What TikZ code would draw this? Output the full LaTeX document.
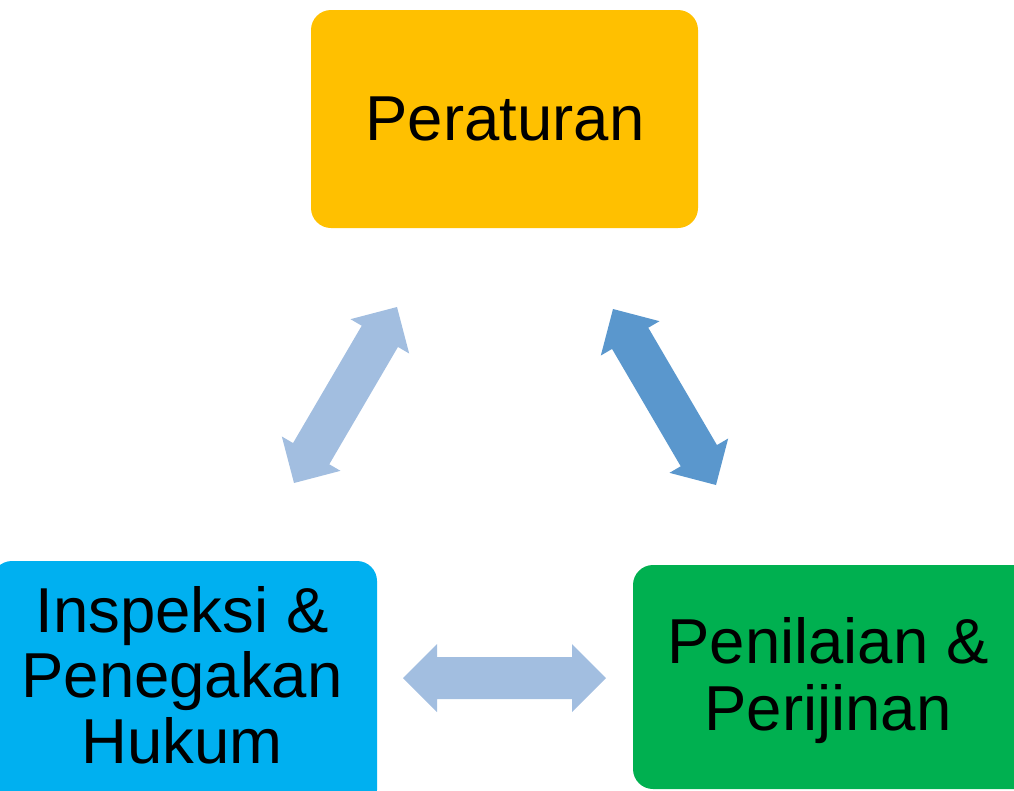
\documentclass[tikz,border=0pt]{standalone}
\usepackage{fontspec}
\setmainfont{Liberation Sans}
\usetikzlibrary{calc}
\definecolor{boxgold}{RGB}{255,192,0}
\definecolor{boxcyan}{RGB}{0,176,240}
\definecolor{boxgreen}{RGB}{0,176,80}
\definecolor{arrlight}{RGB}{162,190,224}
\definecolor{arrdark}{RGB}{90,151,205}
\newcommand\fatarrow[3]{%
  \coordinate (#2h) at ($(#2)!34pt!(#3)$);
  \coordinate (#3h) at ($(#3)!34pt!(#2)$);
  \fill[#1] (#2) -- ($(#2h)!34pt!90:(#3)$) -- ($(#2h)!21pt!90:(#3)$)
    -- ($(#3h)!21pt!-90:(#2)$) -- ($(#3h)!34pt!-90:(#2)$) -- (#3)
    -- ($(#3h)!34pt!90:(#2)$) -- ($(#3h)!21pt!90:(#2)$)
    -- ($(#2h)!21pt!-90:(#3)$) -- ($(#2h)!34pt!-90:(#3)$) -- cycle;}
\tikzset{
  boxshape/.style={rounded corners=20pt},
  label/.style={font=\fontsize{63.5}{66}\selectfont, text=black, inner sep=0pt, anchor=base, align=center}
}
\begin{document}
\begin{tikzpicture}[x=1pt,y=-1pt]
\useasboundingbox (0,0) rectangle (1014,790);
\clip (0,0) rectangle (1014,790);
% boxes
\fill[boxgold, boxshape] (311,10) rectangle (698,228);
\fill[boxcyan, boxshape] (-8,561) rectangle (377,810);
\fill[boxgreen, boxshape] (633,565) rectangle (1040,789);
% labels
\node[label] (tperaturan) at (505,140) {Peraturan};
\node[label] (tinspeksi1) at (182,632) {Inspeksi \&};
\node[label] (tinspeksi2) at (182,697) {Penegakan};
\node[label] (tinspeksi3) at (182,763) {Hukum};
\node[label] (tpenilaian1) at (828,663) {Penilaian \&};
\node[label] (tpenilaian2) at (828,730) {Perijinan};
% arrows
\coordinate (aLt) at (397,307);
\coordinate (aLb) at (294,483);
\coordinate (aRt) at (613,309);
\coordinate (aRb) at (716,485);
\coordinate (aHl) at (403,678);
\coordinate (aHr) at (606,678);
\fatarrow{arrlight}{aLb}{aLt}
\fatarrow{arrdark}{aRt}{aRb}
\fatarrow{arrlight}{aHl}{aHr}
\end{tikzpicture}
\end{document}
